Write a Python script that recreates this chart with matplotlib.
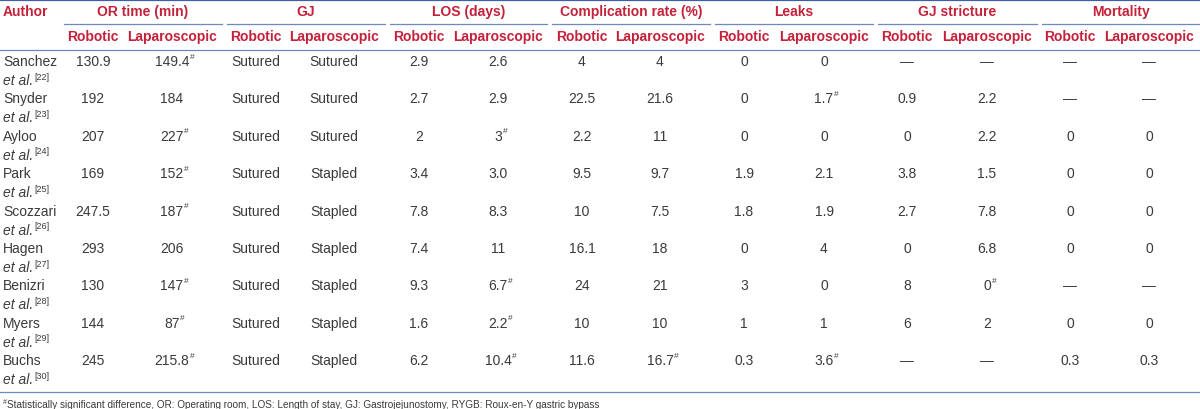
import matplotlib
matplotlib.use("Agg")
from matplotlib import pyplot as plt

plt.rcParams['font.family'] = ['Liberation Sans', 'DejaVu Sans']

# table data (a trailing "#" marks a statistically significant difference)
authors = ["Sanchez", "Snyder", "Ayloo", "Park", "Scozzari", "Hagen", "Benizri", "Myers", "Buchs"]
refs = ["22", "23", "24", "25", "26", "27", "28", "29", "30"]
or_rob = ["130.9", "192", "207", "169", "247.5", "293", "130", "144", "245"]
or_lap = ["149.4#", "184", "227#", "152#", "187#", "206", "147#", "87#", "215.8#"]
gj_rob = ["Sutured"] * 9
gj_lap = ["Sutured", "Sutured", "Sutured", "Stapled", "Stapled", "Stapled", "Stapled", "Stapled", "Stapled"]
los_rob = ["2.9", "2.7", "2", "3.4", "7.8", "7.4", "9.3", "1.6", "6.2"]
los_lap = ["2.6", "2.9", "3#", "3.0", "8.3", "11", "6.7#", "2.2#", "10.4#"]
comp_rob = ["4", "22.5", "2.2", "9.5", "10", "16.1", "24", "10", "11.6"]
comp_lap = ["4", "21.6", "11", "9.7", "7.5", "18", "21", "10", "16.7#"]
leak_rob = ["0", "0", "0", "1.9", "1.8", "0", "3", "1", "0.3"]
leak_lap = ["0", "1.7#", "0", "2.1", "1.9", "4", "0", "1", "3.6#"]
str_rob = ["—", "0.9", "0", "3.8", "2.7", "0", "8", "6", "—"]
str_lap = ["—", "2.2", "2.2", "1.5", "7.8", "6.8", "0#", "2", "—"]
mort_rob = ["—", "—", "0", "0", "0", "0", "—", "0", "0.3"]
mort_lap = ["—", "—", "0", "0", "0", "0", "—", "0", "0.3"]

groups = ["OR time (min)", "GJ", "LOS (days)", "Complication rate (%)", "Leaks", "GJ stricture", "Mortality"]
columns = [(or_rob, or_lap), (gj_rob, gj_lap), (los_rob, los_lap), (comp_rob, comp_lap),
           (leak_rob, leak_lap), (str_rob, str_lap), (mort_rob, mort_lap)]
footnote = ("Statistically significant difference, OR: Operating room, LOS: Length of stay, "
            "GJ: Gastrojejunostomy, RYGB: Roux-en-Y gastric bypass")

# layout in pixels
W, H = 1200, 410
group_span = [(64, 222), (227, 385), (390, 547), (552, 710), (715, 873), (878, 1037), (1042, 1200)]
sub_x = [(93, 172), (256, 334), (419, 498), (582, 660), (744, 824), (907, 987), (1070, 1149)]
row_y0, row_dy = 62, 37.4

red = "#c4213b"
body = "#3a3a3a"
rule = "#6f89bd"

fig = plt.figure(figsize=(W / 100, H / 100), dpi=100)
ax = fig.add_axes([0, 0, 1, 1])
ax.set_xlim(0, W)
ax.set_ylim(H, 0)
ax.axis("off")


def sup_after(txt, s, size, color):
    ax.annotate(s, xy=(1, 1), xycoords=txt, xytext=(0.5, 1), textcoords="offset points",
                ha="left", va="top", fontsize=size, color=color)


def cell(x, y, s):
    sig = s.endswith("#")
    t = ax.text(x, y, s.rstrip("#"), ha="center", va="center", fontsize=10, color=body)
    if sig:
        sup_after(t, "#", 6, body)


# rules
ax.plot([0, W], [0.8, 0.8], color="#3f5fa0", lw=1.6, solid_capstyle="butt")
for a, b in group_span:
    ax.plot([a, b], [25, 25], color=rule, lw=0.9)
ax.plot([0, W], [51, 51], color=rule, lw=0.9)
ax.plot([0, W], [393, 393], color=rule, lw=0.9)

# header
ax.text(3, 12, "Author", ha="left", va="center", fontsize=10, fontweight="bold", color=red)
for g, (a, b), (xr, xl) in zip(groups, group_span, sub_x):
    ax.text((a + b) / 2, 12, g, ha="center", va="center", fontsize=10, fontweight="bold", color=red)
    ax.text(xr, 37, "Robotic", ha="center", va="center", fontsize=10, fontweight="bold", color=red)
    ax.text(xl, 37, "Laparoscopic", ha="center", va="center", fontsize=10, fontweight="bold", color=red)

# body
for i, (name, ref) in enumerate(zip(authors, refs)):
    y = row_y0 + i * row_dy
    ax.text(3, y, name, ha="left", va="center", fontsize=10, color=body)
    t = ax.text(3, y + 19, "et al.", ha="left", va="center", fontsize=10, style="italic", color=body)
    sup_after(t, "[" + ref + "]", 6.5, body)
    for (rob, lap), (xr, xl) in zip(columns, sub_x):
        cell(xr, y, rob[i])
        cell(xl, y, lap[i])

# footnote
f0 = ax.text(3, 403, "#", ha="left", va="center", fontsize=5, color=body)
ax.annotate(footnote, xy=(1, 0.5), xycoords=f0, xytext=(0, -1.2), textcoords="offset points",
            ha="left", va="center", fontsize=7.2, color=body)

fig.savefig("out.png", dpi=100)
